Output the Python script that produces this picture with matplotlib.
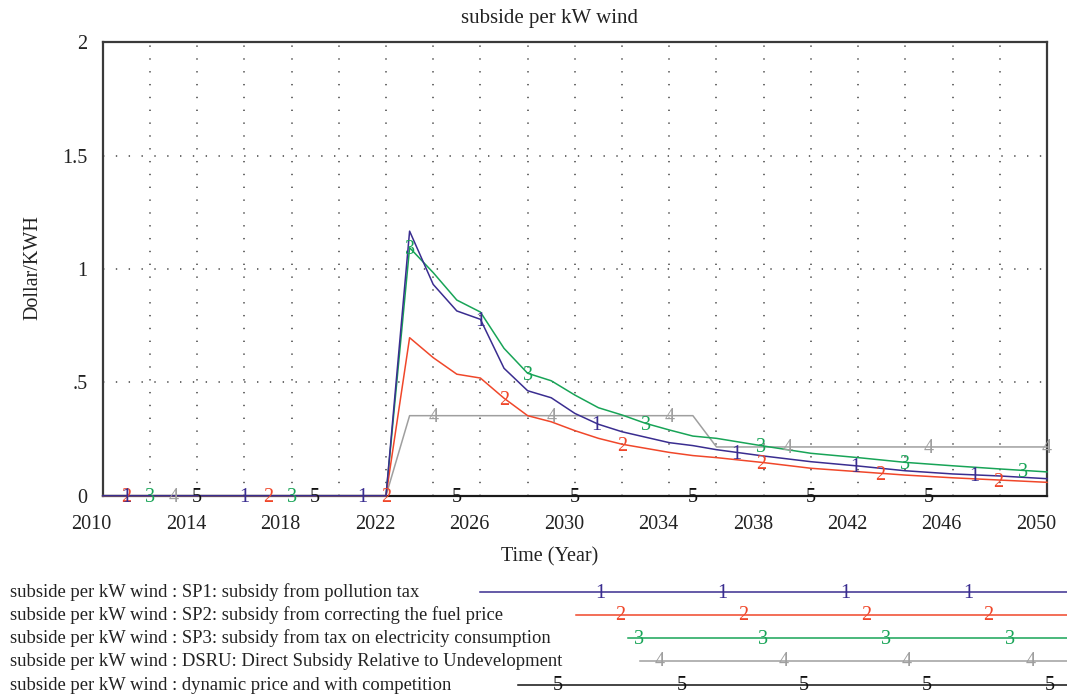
import numpy as np
import matplotlib
matplotlib.use("Agg")
import matplotlib.pyplot as plt

plt.rcParams['font.family'] = ['Liberation Serif', 'DejaVu Serif']

years = [2010, 2022, 2023, 2024, 2025, 2026, 2027, 2028, 2029, 2030, 2031, 2032,
         2033, 2034, 2035, 2036, 2038, 2040, 2042, 2044, 2046, 2048, 2050]
sp1 = [0, 0, 1.167, 0.932, 0.815, 0.778, 0.562, 0.463, 0.432, 0.363, 0.315, 0.282,
       0.258, 0.234, 0.221, 0.203, 0.175, 0.150, 0.131, 0.110, 0.096, 0.087, 0.075]
sp2 = [0, 0, 0.697, 0.609, 0.536, 0.519, 0.430, 0.353, 0.326, 0.287, 0.253, 0.227,
       0.209, 0.191, 0.177, 0.168, 0.146, 0.121, 0.106, 0.091, 0.079, 0.069, 0.059]
sp3 = [0, 0, 1.094, 0.984, 0.863, 0.810, 0.650, 0.540, 0.507, 0.444, 0.388, 0.356,
       0.319, 0.290, 0.263, 0.253, 0.219, 0.187, 0.168, 0.147, 0.132, 0.118, 0.105]
dsru_years = [2010, 2022, 2023, 2035, 2036, 2050]
dsru = [0, 0, 0.353, 0.353, 0.215, 0.215]
dyn_years = [2010, 2050]
dyn = [0, 0]

# years where the series numbers sit on the lines
num_years = {
    '1': [2011, 2016, 2021, 2026, 2030.9, 2036.85, 2041.9, 2046.9],
    '2': [2011, 2017, 2022, 2027, 2032, 2037.9, 2042.95, 2047.95],
    '3': [2012, 2018, 2023, 2028, 2033, 2037.9, 2044, 2049],
    '4': [2013, 2024, 2029, 2034, 2039, 2045, 2050],
    '5': [2014, 2019, 2025, 2030, 2035, 2040, 2045],
}

names = [
    "subside per kW wind : SP1: subsidy from pollution tax",
    "subside per kW wind : SP2: subsidy from correcting the fuel price",
    "subside per kW wind : SP3: subsidy from tax on electricity consumption",
    "subside per kW wind : DSRU: Direct Subsidy Relative to Undevelopment",
    "subside per kW wind : dynamic price and with competition",
]
colors = ['#3a2d90', '#f0472a', '#18a457', '#9f9f9f', '#111111']
xticks = list(range(2010, 2051, 4))
yticks = [0, 0.5, 1, 1.5, 2]
ytick_labels = ['0', '.5', '1', '1.5', '2']

series = [('1', years, sp1), ('2', years, sp2), ('3', years, sp3),
          ('4', dsru_years, dsru), ('5', dyn_years, dyn)]

W, H = 1067, 697
fig = plt.figure(figsize=(W / 100, H / 100), dpi=100)
ax = fig.add_axes([102.7 / W, 1 - 495.7 / H, (1047 - 102.7) / W, (495.7 - 42.3) / H])

# dotted vensim grid
dot = (0, (0.9, 7.5))
for x in range(2012, 2050, 2):
    ax.axvline(x, color='#444444', lw=1.1, ls=dot, zorder=0)
for y in [0.5, 1, 1.5]:
    ax.axhline(y, color='#444444', lw=1.1, ls=dot, zorder=0)

# draw series 5 first so series 1 ends up on top
for i in range(4, -1, -1):
    k, xs, ys = series[i]
    ax.plot(xs, ys, color=colors[i], lw=1.1, zorder=3 + (5 - i), clip_on=False)
    for xv in num_years[k]:
        ax.annotate(k, xy=(xv, np.interp(xv, xs, ys)), xytext=(0, -2),
                    textcoords='offset pixels', color=colors[i], fontsize=14.5,
                    ha='center', va='center', zorder=10 + (5 - i),
                    annotation_clip=False)

ax.set_xlim(2010, 2050)
ax.set_ylim(0, 2)
for s in ax.spines.values():
    s.set_color('#3a3a3a')
    s.set_linewidth(1.6)
ax.set_xticks([])
ax.set_yticks(yticks)
ax.set_yticklabels(ytick_labels, fontsize=14.5, color='#222222')
ax.tick_params(axis='y', length=0, pad=11)

# x tick labels sit a little left of the grid, like in vensim
for yr in xticks:
    ax.annotate(str(yr), xy=(yr, 0), xycoords=('data', 'axes fraction'),
                xytext=(-11, -29), textcoords='offset pixels',
                ha='center', va='center', fontsize=14.5, color='#222222')

fig.text(550 / W, 1 - 18 / H, 'subside per kW wind', ha='center', va='center',
         fontsize=15, color='#222222')
fig.text(550 / W, 1 - 557 / H, 'Time (Year)', ha='center', va='center',
         fontsize=14.5, color='#222222')
fig.text(33 / W, 1 - 268 / H, 'Dollar/KWH', ha='center', va='center',
         rotation=90, fontsize=14.5, color='#222222')

# legend block at the bottom, in pixel coordinates
leg = fig.add_axes([0, 0, 1, 1], facecolor='none')
leg.set_xlim(0, W)
leg.set_ylim(H, 0)
leg.axis('off')
row_y = [592, 615, 638, 661, 685]
line_start = [480, 576, 628, 640, 518]
leg_nums = [[600, 722, 845, 968], [620, 743, 866, 988], [639, 763, 886, 1010],
            [660, 784, 907, 1031], [558, 682, 804, 927, 1050]]
for i, name in enumerate(names):
    leg.text(10, row_y[i], name, ha='left', va='center', fontsize=13.4, color='#222222')
    leg.plot([line_start[i], W], [row_y[i], row_y[i]], color=colors[i], lw=1.1)
    for xp in leg_nums[i]:
        leg.text(xp, row_y[i] + 1, str(i + 1), ha='center', va='center',
                 fontsize=14.5, color=colors[i])

fig.savefig('out.png', dpi=100)
